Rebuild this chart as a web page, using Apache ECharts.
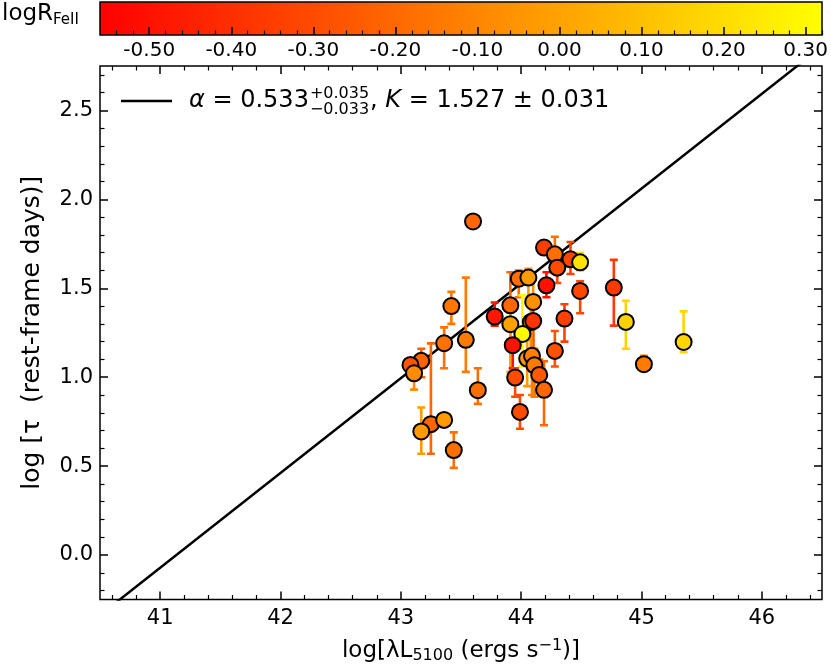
<!DOCTYPE html>
<html><head><meta charset="utf-8">
<script src="https://cdn.jsdelivr.net/npm/echarts@6/dist/echarts.min.js"></script>
<style>html,body{margin:0;padding:0;background:#fff}#c{width:831px;height:669px}</style>
</head><body><div id="c"></div>
<script>
// ---- data ----
const lumX  = [43.60,44.19,44.28,44.41,44.49,44.30,43.98,44.06,44.21,44.49,44.77,44.87,45.35,45.02,43.42,43.78,43.91,43.91,44.10,44.08,44.10,44.01,43.93,44.36,43.54,43.36,43.17,43.08,43.11,44.28,44.05,44.09,44.11,44.15,44.19,43.95,43.99,43.64,43.25,43.17,43.36,43.44];
const tauY  = [1.876,1.729,1.691,1.663,1.646,1.616,1.554,1.560,1.517,1.485,1.504,1.311,1.198,1.073,1.400,1.341,1.404,1.298,1.423,1.310,1.316,1.243,1.180,1.330,1.210,1.191,1.092,1.069,1.022,1.148,1.105,1.120,1.067,1.013,0.929,0.998,0.805,0.927,0.736,0.695,0.760,0.590];
const tauLo = [null,null,1.60,1.58,1.60,1.53,1.45,1.44,1.45,1.36,1.29,1.16,1.14,1.05,1.30,1.29,1.21,1.03,1.16,1.10,1.10,1.06,1.05,1.20,1.03,1.05,1.00,null,0.93,1.06,0.95,0.90,0.89,0.93,0.73,0.89,0.71,0.85,0.57,0.57,0.74,0.49];
const tauHi = [null,null,1.79,1.76,1.70,1.70,1.60,1.61,1.59,1.54,1.66,1.43,1.37,1.12,1.48,1.42,1.59,1.44,1.55,1.41,1.41,1.46,1.21,1.41,1.56,1.28,1.16,null,1.07,1.26,1.21,1.27,1.16,1.10,1.09,1.05,0.90,1.05,1.19,0.83,0.78,0.69];
const logRFe = [-0.20,-0.35,-0.18,-0.33,0.22,-0.30,-0.18,-0.03,-0.50,-0.32,-0.36,0.16,0.18,-0.14,-0.15,-0.48,-0.20,0.00,-0.06,-0.05,-0.38,0.30,-0.50,-0.34,-0.14,-0.17,-0.22,-0.27,-0.08,-0.28,-0.04,-0.12,-0.14,-0.25,-0.20,-0.30,-0.30,-0.18,-0.21,-0.03,-0.03,-0.18];
const fitX = [40.5, 46.5];
const fitY = [-0.338, 2.860];
const xTicks = [41,42,43,44,45,46];
const yTicks = [0.0,0.5,1.0,1.5,2.0,2.5];
const cbTicks = [-0.5,-0.4,-0.3,-0.2,-0.1,0.0,0.1,0.2,0.3];
const legendText = {alpha:'0.533', sup:'+0.035', sub:'\u22120.033', rest:'1.527 \u00b1 0.031'};

// ---- settings ----
const FONT = 'DejaVu Sans';
const CMIN = -0.56, CMAX = 0.32;
const XMIN = 40.5, XMAX = 46.5, YMIN = -0.25, YMAX = 2.75;
function cmap(v){ let t=(v-CMIN)/(CMAX-CMIN); t=Math.max(0,Math.min(1,t)); return 'rgb(255,'+Math.round(255*t)+',0)'; }
function minorList(a,b,step,majors){ const out=[]; for(let v=a; v<=b+1e-9; v+=step){ const r=Math.round(v*1000)/1000; if(!majors.some(m=>Math.abs(m-r)<1e-6)) out.push(r);} return out; }
const xMinor = minorList(40.6,46.4,0.2,xTicks);
const yMinor = minorList(-0.2,2.7,0.1,yTicks);
const cbMinor = minorList(-0.54,0.32,0.02,cbTicks);

const chart = echarts.init(document.getElementById('c'), null, {renderer:'canvas'});
const black = '#000';
const MAJ = {length:8, width:1.5}, MIN = {length:4.5, width:1.2};
function tickAx(base){ return Object.assign({type:'value', z:20, axisLine:{show:false, onZero:false}, splitLine:{show:false}, axisLabel:{show:false}}, base); }
function tk(vals, s){ return {show:true, inside:true, length:s.length, customValues:vals, lineStyle:{color:black, width:s.width}}; }

const xAxes = [
  tickAx({gridIndex:0, position:'bottom', min:XMIN, max:XMAX, axisTick:tk(xTicks, MAJ),
    axisLabel:{show:true, customValues:xTicks, color:black, fontFamily:FONT, fontSize:21, margin:9},
    name:'log[\u03bbL{sub|5100} (ergs s{sup|\u22121})]', nameLocation:'middle', nameGap:38,
    nameTextStyle:{color:black, fontFamily:FONT, fontSize:23,
      rich:{sub:{fontFamily:FONT,fontSize:16,padding:[10,0,0,0],color:black}, sup:{fontFamily:FONT,fontSize:16,padding:[0,0,11,0],color:black}}}}),
  tickAx({gridIndex:0, position:'bottom', min:XMIN, max:XMAX, axisTick:tk(xMinor, MIN)}),
  tickAx({gridIndex:0, position:'top', min:XMIN, max:XMAX, axisTick:tk(xTicks, MAJ)}),
  tickAx({gridIndex:0, position:'top', min:XMIN, max:XMAX, axisTick:tk(xMinor, MIN)}),
  tickAx({gridIndex:1, position:'bottom', min:CMIN, max:CMAX, axisTick:tk(cbTicks, MAJ),
    axisLabel:{show:true, customValues:cbTicks, color:black, fontFamily:FONT, fontSize:20, margin:6,
      formatter:v=>(v<0?'-':'')+Math.abs(v).toFixed(2)}}),
  tickAx({gridIndex:1, position:'bottom', min:CMIN, max:CMAX, axisTick:tk(cbMinor, MIN)})
];
const yAxes = [
  tickAx({gridIndex:0, position:'left', min:YMIN, max:YMAX, axisTick:tk(yTicks, MAJ),
    axisLabel:{show:true, customValues:yTicks, color:black, fontFamily:FONT, fontSize:21, margin:7, formatter:v=>v.toFixed(1)},
    name:'log [\u03c4  (rest-frame days)]', nameLocation:'middle', nameGap:55, nameRotate:90,
    nameTextStyle:{color:black, fontFamily:FONT, fontSize:25}}),
  tickAx({gridIndex:0, position:'left', min:YMIN, max:YMAX, axisTick:tk(yMinor, MIN)}),
  tickAx({gridIndex:0, position:'right', min:YMIN, max:YMAX, axisTick:tk(yTicks, MAJ)}),
  tickAx({gridIndex:0, position:'right', min:YMIN, max:YMAX, axisTick:tk(yMinor, MIN)}),
  tickAx({gridIndex:1, position:'left', min:0, max:1, axisTick:{show:false}})
];

const errData = lumX.map((x,i)=>[x, tauLo[i]==null?NaN:tauLo[i], tauHi[i]==null?NaN:tauHi[i]]);
const ptData = lumX.map((x,i)=>({value:[x, tauY[i]], itemStyle:{color:cmap(logRFe[i])}}));

// legend pieces measured with canvas
const mc = document.createElement('canvas').getContext('2d');
function tw(txt, size, italic){ mc.font=(italic?'italic ':'')+size+'px "'+FONT+'"'; return mc.measureText(txt).width; }
const LS = 24, LSS = 16;
const lx0 = 189, ly = 101;
const w1 = tw('\u03b1', LS, true) + tw(' = '+legendText.alpha, LS, false);
const wS = Math.max(tw(legendText.sup, LSS), tw(legendText.sub, LSS));
const x2 = lx0 + w1 + 1;
const x3 = x2 + wS + 1;

chart.setOption({
  animation:false,
  backgroundColor:'#fff',
  grid:[
    {left:100, top:66, width:722, height:536, show:true, z:19, borderColor:black, borderWidth:1.5, backgroundColor:'transparent'},
    {left:100, top:2, width:722, height:33, show:true, z:19, borderColor:black, borderWidth:1.5, backgroundColor:'transparent'}
  ],
  xAxis:xAxes, yAxis:yAxes,
  series:[
    {type:'custom', xAxisIndex:4, yAxisIndex:4, data:[[0,0]], silent:true, z:1,
      renderItem:function(params, api){ const cs=params.coordSys; return {type:'rect', shape:{x:cs.x,y:cs.y,width:cs.width,height:cs.height},
        style:{fill:new echarts.graphic.LinearGradient(0,0,1,0,[{offset:0,color:cmap(CMIN)},{offset:1,color:cmap(CMAX)}])}}; }},
    {type:'line', xAxisIndex:0, yAxisIndex:0, data:fitX.map((x,i)=>[x,fitY[i]]), showSymbol:false, symbol:'none', clip:true,
      lineStyle:{color:black, width:2.5}, z:2},
    {type:'custom', xAxisIndex:0, yAxisIndex:0, data:errData, encode:{x:0,y:[1,2]}, z:3, clip:true,
      renderItem:function(params, api){
        const lo=api.value(1), hi=api.value(2); if(isNaN(lo)||isNaN(hi)) return null;
        const x=api.value(0); const a=api.coord([x,hi]), b=api.coord([x,lo]); const c=cmap(logRFe[params.dataIndex]); const cw=4;
        const st={stroke:c, lineWidth:2.6};
        return {type:'group', children:[
          {type:'line', shape:{x1:a[0],y1:a[1],x2:b[0],y2:b[1]}, style:st},
          {type:'line', shape:{x1:a[0]-cw,y1:a[1],x2:a[0]+cw,y2:a[1]}, style:st},
          {type:'line', shape:{x1:b[0]-cw,y1:b[1],x2:b[0]+cw,y2:b[1]}, style:st}
        ]};
      }},
    {type:'scatter', xAxisIndex:0, yAxisIndex:0, data:ptData, symbol:'circle', symbolSize:16, z:4,
      itemStyle:{borderColor:black, borderWidth:2, opacity:1}}
  ],
  graphic:[
    {type:'text', left:2, top:3, z:30, style:{text:'logR{s|FeII}', font:'23px "'+FONT+'"', fill:black,
      rich:{s:{fontFamily:FONT, fontSize:15, padding:[11,0,0,0], fill:black}}}},
    {type:'line', z:30, shape:{x1:121,y1:ly,x2:172,y2:ly}, style:{stroke:black, lineWidth:2.5}},
    {type:'text', z:30, x:lx0, y:ly, style:{text:'{i|\u03b1} = '+legendText.alpha, fill:black, font:LS+'px "'+FONT+'"', verticalAlign:'middle',
      rich:{i:{fontStyle:'italic', fontFamily:FONT, fontSize:LS}}}},
    {type:'text', z:30, x:x2, y:ly-7, style:{text:legendText.sup, fill:black, font:LSS+'px "'+FONT+'"', verticalAlign:'middle'}},
    {type:'text', z:30, x:x2, y:ly+9, style:{text:legendText.sub, fill:black, font:LSS+'px "'+FONT+'"', verticalAlign:'middle'}},
    {type:'text', z:30, x:x3, y:ly, style:{text:', {i|K} = '+legendText.rest, fill:black, font:LS+'px "'+FONT+'"', verticalAlign:'middle',
      rich:{i:{fontStyle:'italic', fontFamily:FONT, fontSize:LS}}}}
  ]
});
</script></body></html>
